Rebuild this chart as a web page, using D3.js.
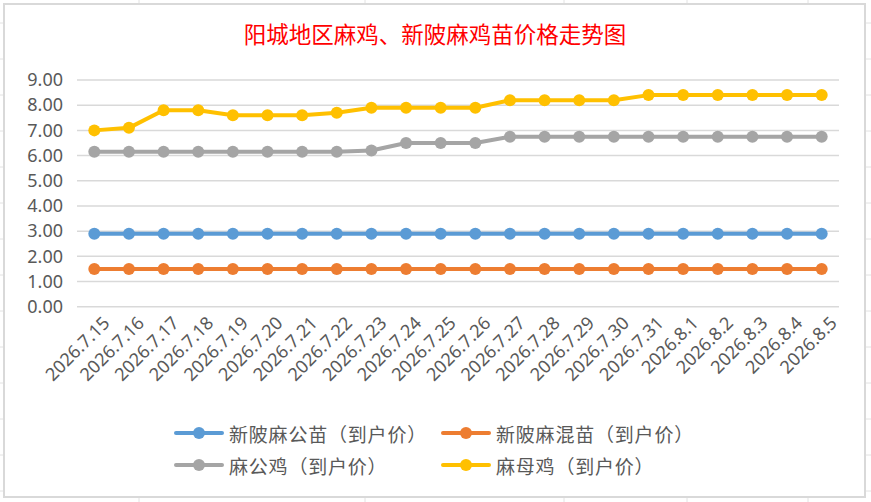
<!DOCTYPE html>
<html>
<head>
<meta charset="utf-8">
<script src="https://cdn.jsdelivr.net/npm/d3@7"></script>
<style>
  html, body { margin: 0; padding: 0; background: #ffffff; }
  svg { display: block; }
</style>
</head>
<body>
<svg id="chart" width="871" height="502"></svg>
<script>
// ---- data ----
const categories = ["2026.7.15","2026.7.16","2026.7.17","2026.7.18","2026.7.19","2026.7.20","2026.7.21","2026.7.22","2026.7.23","2026.7.24","2026.7.25","2026.7.26","2026.7.27","2026.7.28","2026.7.29","2026.7.30","2026.7.31","2026.8.1","2026.8.2","2026.8.3","2026.8.4","2026.8.5"];
const seriesNames = ["新陂麻公苗（到户价）","新陂麻混苗（到户价）","麻公鸡（到户价）","麻母鸡（到户价）"];
const xinpiMaleChick = [2.9,2.9,2.9,2.9,2.9,2.9,2.9,2.9,2.9,2.9,2.9,2.9,2.9,2.9,2.9,2.9,2.9,2.9,2.9,2.9,2.9,2.9];
const xinpiMixedChick = [1.5,1.5,1.5,1.5,1.5,1.5,1.5,1.5,1.5,1.5,1.5,1.5,1.5,1.5,1.5,1.5,1.5,1.5,1.5,1.5,1.5,1.5];
const roosterPrice = [6.15,6.15,6.15,6.15,6.15,6.15,6.15,6.15,6.2,6.5,6.5,6.5,6.75,6.75,6.75,6.75,6.75,6.75,6.75,6.75,6.75,6.75];
const henPrice = [7.0,7.1,7.8,7.8,7.6,7.6,7.6,7.7,7.9,7.9,7.9,7.9,8.2,8.2,8.2,8.2,8.4,8.4,8.4,8.4,8.4,8.4];
const yTicks = [0,1,2,3,4,5,6,7,8,9];
const titleText = "阳城地区麻鸡、新陂麻鸡苗价格走势图";

// ---- styles ----
const colors = ["#5b9bd5","#ed7d31","#a5a5a5","#ffc000"];
const W = 871, H = 502;
const plot = { left: 77, right: 839, top: 80, bottom: 306.7 };
const fontLatin = "'Noto Sans', 'Open Sans', sans-serif";
const fontCJK = "'Noto Sans CJK SC', sans-serif";

const svg = d3.select("#chart");

// spreadsheet cell grid behind the chart
const colLines = [139, 365, 564, 687, 808];
const rowLines = d3.range(23, H, 36);
svg.append("rect").attr("width", W).attr("height", H).attr("fill", "#ffffff");
svg.selectAll("line.vcell").data(colLines).enter().append("line")
  .attr("x1", d => d).attr("x2", d => d).attr("y1", 0).attr("y2", H)
  .attr("stroke", "#e2e2e2").attr("stroke-width", 1);
svg.selectAll("line.hcell").data(rowLines).enter().append("line")
  .attr("x1", 0).attr("x2", W).attr("y1", d => d).attr("y2", d => d)
  .attr("stroke", "#e2e2e2").attr("stroke-width", 1);

// chart area
svg.append("rect").attr("x", 4).attr("y", 4).attr("width", 861).attr("height", 493)
  .attr("fill", "#ffffff").attr("stroke", "#d9d9d9").attr("stroke-width", 2);

// title
svg.append("text").attr("x", 435).attr("y", 43).attr("text-anchor", "middle")
  .attr("font-family", fontCJK).attr("font-size", 22.5).attr("fill", "#ff0000")
  .text(titleText);

// scales
const x = d3.scaleBand().domain(categories).range([plot.left, plot.right]);
const cx = d => x(d) + x.bandwidth() / 2;
const y = d3.scaleLinear().domain([0, 9]).range([plot.bottom, plot.top]);

// gridlines
svg.append("g").selectAll("line").data(yTicks).enter().append("line")
  .attr("x1", plot.left).attr("x2", plot.right)
  .attr("y1", d => y(d)).attr("y2", d => y(d))
  .attr("stroke", "#d9d9d9").attr("stroke-width", 1.5);

// y axis labels
const yAxis = d3.axisLeft(y).tickValues(yTicks).tickFormat(d3.format(".2f")).tickSize(0).tickPadding(14);
const gy = svg.append("g").attr("transform", `translate(${plot.left},0)`).call(yAxis);
gy.select(".domain").remove();
gy.selectAll("text").attr("font-family", fontLatin).attr("font-size", 18).attr("fill", "#595959");

// x axis labels
const xAxis = d3.axisBottom(x).tickSize(0).tickPadding(0);
const gx = svg.append("g").attr("transform", `translate(0,${plot.bottom})`).call(xAxis);
gx.select(".domain").remove();
gx.selectAll(".tick text")
  .attr("font-family", fontLatin).attr("font-size", 18).attr("fill", "#595959")
  .attr("text-anchor", "end").attr("dy", null).attr("y", 0).attr("x", 0)
  .attr("transform", "translate(13,14) rotate(-45)")
  .attr("dominant-baseline", "middle");

// lines
const allSeries = [xinpiMaleChick, xinpiMixedChick, roosterPrice, henPrice];
const line = d3.line().x((d, i) => cx(categories[i])).y(d => y(d));
allSeries.forEach((vals, si) => {
  const g = svg.append("g");
  g.append("path").datum(vals).attr("d", line)
    .attr("fill", "none").attr("stroke", colors[si]).attr("stroke-width", 4)
    .attr("stroke-linejoin", "round");
  g.selectAll("circle").data(vals).enter().append("circle")
    .attr("cx", (d, i) => cx(categories[i])).attr("cy", d => y(d)).attr("r", 6)
    .attr("fill", colors[si]);
});

// legend
const legendPos = [
  { x: 176, y: 433 }, { x: 443, y: 433 },
  { x: 176, y: 465 }, { x: 443, y: 465 }
];
seriesNames.forEach((name, i) => {
  const p = legendPos[i];
  const g = svg.append("g").attr("transform", `translate(${p.x},${p.y})`);
  g.append("line").attr("x1", 0).attr("x2", 46).attr("y1", 0).attr("y2", 0)
    .attr("stroke", colors[i]).attr("stroke-width", 4).attr("stroke-linecap", "round");
  g.append("circle").attr("cx", 23).attr("cy", 0).attr("r", 6).attr("fill", colors[i]);
  g.append("text").attr("x", 53).attr("y", 0).attr("dominant-baseline", "central")
    .attr("font-family", fontCJK).attr("font-size", 19).attr("letter-spacing", 0.8)
    .attr("fill", "#595959")
    .text(name);
});
</script>
</body>
</html>
